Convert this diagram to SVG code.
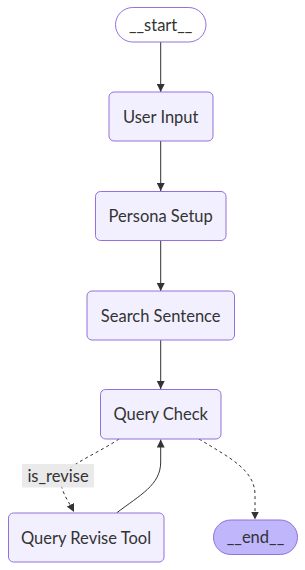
<svg xmlns="http://www.w3.org/2000/svg" width="305" height="570" viewBox="0 0 305 570">
<defs>
<style>
.node rect{fill:#f2f0ff;stroke:#9370db;stroke-width:1}
.first rect{fill:#ffffff}
.last rect{fill:#bfb6fc}
text{font-family:"Lato","Open Sans",sans-serif;font-size:16.5px;fill:#333333;text-anchor:middle;dominant-baseline:central}
.edge{fill:none;stroke:#333333;stroke-width:1;marker-end:url(#arrow)}
.dashed{stroke-dasharray:3 3}
.lbl{fill:#e8e8e8;opacity:0.9}
</style>
<marker id="arrow" viewBox="0 0 10 10" refX="10" refY="5" markerWidth="8" markerHeight="8" markerUnits="userSpaceOnUse" orient="auto">
<path d="M0,0 L10,5 L0,10 z" fill="#333333"/>
</marker>
</defs>
<rect width="305" height="570" fill="#ffffff"/>
<g id="edges">
<path class="edge" d="M160.7,42 L160.7,92"/>
<path class="edge" d="M160.7,141 L160.7,191"/>
<path class="edge" d="M160.7,241 L160.7,291"/>
<path class="edge" d="M160.7,340 L160.7,389"/>
<path class="edge dashed" d="M119,439 C100,452 70,464 62,476 C58,488 68,500 74,512"/>
<path class="edge" d="M116.5,513 C140,495 160.7,485 160.7,462 L160.7,439.5"/>
<path class="edge dashed" d="M199,439 C230,458 255,470 255,495 L255,519.5"/>
<rect class="lbl" x="22" y="464" width="72" height="23.5"/>
<text x="58" y="476">is_revise</text>
</g>
<g id="start" class="node first"><rect x="115.5" y="7.5" width="90.5" height="34.5" rx="17.25"/><text x="160.7" y="24.5">__start__</text></g>
<g id="user_input" class="node"><rect x="109" y="92" width="104" height="49" rx="5"/><text x="160.7" y="116.5">User Input</text></g>
<g id="persona_setup" class="node"><rect x="95.5" y="191.5" width="130.5" height="49" rx="5"/><text x="160.7" y="216">Persona Setup</text></g>
<g id="search_sentence" class="node"><rect x="87" y="291" width="147.5" height="49" rx="5"/><text x="160.7" y="315.5">Search Sentence</text></g>
<g id="query_check" class="node"><rect x="100.5" y="389.5" width="120.5" height="49.5" rx="5"/><text x="160.7" y="414">Query Check</text></g>
<g id="query_revise_tool" class="node"><rect x="8.5" y="513" width="155.5" height="49" rx="5"/><text x="86" y="537.5">Query Revise Tool</text></g>
<g id="end" class="node last"><rect x="213.5" y="520" width="84" height="34.5" rx="17.25"/><text x="255.5" y="537">__end__</text></g>
</svg>
